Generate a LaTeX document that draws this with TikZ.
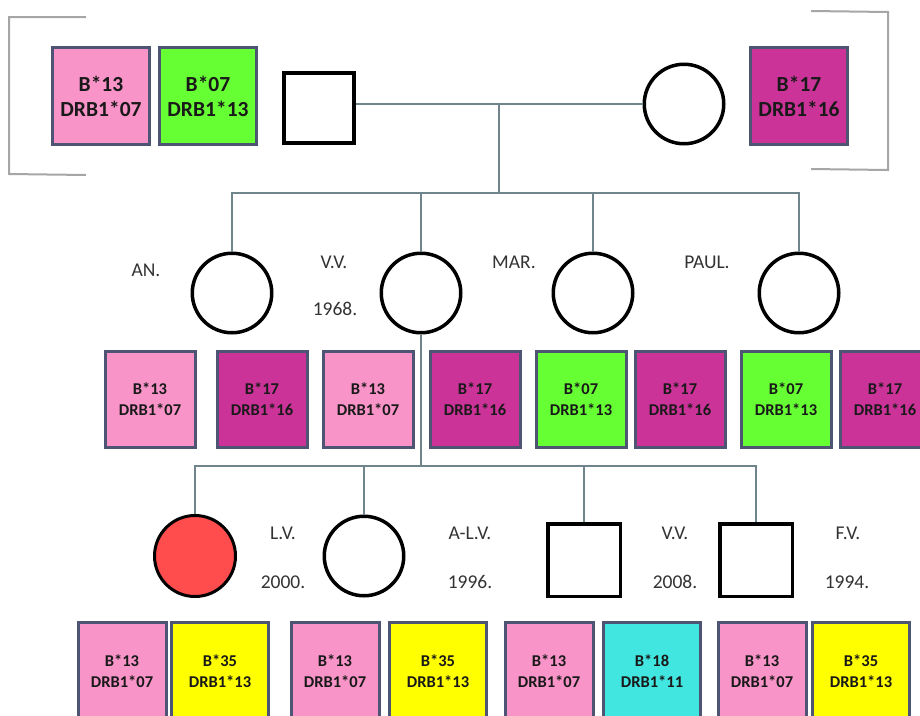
\documentclass[tikz,border=0pt]{standalone}
\usepackage{fontspec}
\setmainfont{Carlito}
\usetikzlibrary{calc}

\definecolor{hpink}{RGB}{249,148,200}
\definecolor{hgreen}{RGB}{102,255,51}
\definecolor{hmag}{RGB}{204,51,153}
\definecolor{hyel}{RGB}{255,255,0}
\definecolor{hcyan}{RGB}{66,230,224}
\definecolor{hred}{RGB}{255,77,77}
\definecolor{hedge}{RGB}{78,84,115}
\definecolor{hline}{RGB}{112,132,140}

\begin{document}
\begin{tikzpicture}[x=1pt,y=-1pt,
	male/.style={draw,rectangle,line width=3.5pt,minimum size=70pt},
	female/.style={draw,circle,line width=3.5pt,minimum size=79.5pt},
	hla/.style={draw=hedge,line width=3pt,rectangle,align=center,text=black!90,
		font=\bfseries\fontsize{16.5}{21}\selectfont,minimum width=90pt,minimum height=96pt},
	big/.style={font=\bfseries\fontsize{21.5}{25}\selectfont,minimum width=97pt,minimum height=97pt},
	low/.style={minimum width=97pt,minimum height=97pt},
	narrow/.style={minimum width=88pt},
	lbl/.style={text=black!80,font=\fontsize{19.5}{23}\selectfont,inner sep=0},
	link/.style={draw=hline,line width=1.3pt},
	bracket/.style={draw=black!35,line width=2pt}]

\useasboundingbox[fill=white] (0,0) rectangle (920,715);

% parents
\node[male] (fa) at (319,108) {};
\node[female] (mo) at (684,104) {};
\node[hla,big,fill=hpink] (fa-1) at (101,96) {B*13\\DRB1*07};
\node[hla,big,fill=hgreen] (fa-2) at (208,96) {B*07\\DRB1*13};
\node[hla,big,fill=hmag] (mo-1) at (799,96) {B*17\\DRB1*16};

\draw[bracket] (86,17) -- (9,17) -- (9,174) -- (86,175);
\draw[bracket] (811,11) -- (888,12) -- (888,170) -- (811,169);

% children
\node[female] (an) at (232,293) {};
\node[female] (vv) at (421,293) {};
\node[female] (mar) at (593,293) {};
\node[female] (paul) at (799,293) {};

\node[lbl] (an-l) at (146,270) {AN.};
\node[lbl] (vv-l) at (334,262) {V.V.};
\node[lbl] (vv-y) at (335,309) {1968.};
\node[lbl] (mar-l) at (514,262) {MAR.};
\node[lbl] (paul-l) at (707,262) {PAUL.};

\node[hla,fill=hpink] (an-1) at (150,399) {B*13\\DRB1*07};
\node[hla,fill=hmag] (an-2) at (262,399) {B*17\\DRB1*16};
\node[hla,fill=hpink] (vv-1) at (368,399) {B*13\\DRB1*07};
\node[hla,fill=hmag] (vv-2) at (475,399) {B*17\\DRB1*16};
\node[hla,fill=hgreen] (mar-1) at (581,399) {B*07\\DRB1*13};
\node[hla,fill=hmag] (mar-2) at (680,399) {B*17\\DRB1*16};
\node[hla,fill=hgreen] (paul-1) at (786,399) {B*07\\DRB1*13};
\node[hla,fill=hmag] (paul-2) at (885,399) {B*17\\DRB1*16};

% grandchildren
\node[female,fill=hred,line width=3pt,minimum size=81pt] (lv) at (195,556) {};
\node[female] (alv) at (364,556) {};
\node[male,minimum size=72.5pt] (vv2) at (584,560) {};
\node[male,minimum size=72.5pt] (fv) at (756,560) {};

\node[lbl] (lv-l) at (283,533) {L.V.};
\node[lbl] (lv-y) at (283,582) {2000.};
\node[lbl] (alv-l) at (470,533) {A-L.V.};
\node[lbl] (alv-y) at (470,582) {1996.};
\node[lbl] (vv2-l) at (675,533) {V.V.};
\node[lbl] (vv2-y) at (675,582) {2008.};
\node[lbl] (fv-l) at (848,533) {F.V.};
\node[lbl] (fv-y) at (847,582) {1994.};

\node[hla,low,narrow,fill=hpink] (lv-1) at (122,671) {B*13\\DRB1*07};
\node[hla,low,fill=hyel] (lv-2) at (220,671) {B*35\\DRB1*13};
\node[hla,low,narrow,fill=hpink] (alv-1) at (335,671) {B*13\\DRB1*07};
\node[hla,low,fill=hyel] (alv-2) at (438,671) {B*35\\DRB1*13};
\node[hla,low,narrow,fill=hpink] (vv2-1) at (549,671) {B*13\\DRB1*07};
\node[hla,low,fill=hcyan] (vv2-2) at (652,671) {B*18\\DRB1*11};
\node[hla,low,narrow,fill=hpink] (fv-1) at (762,671) {B*13\\DRB1*07};
\node[hla,low,fill=hyel] (fv-2) at (861,671) {B*35\\DRB1*13};

% lines
\draw[link] (fa.east |- mo.west) -- (mo.west);
\coordinate (mid) at ($(fa.east |- mo.west)!.5!(mo.west)$);
\coordinate (sib) at (mid |- 0,193);
\draw[link] (mid) -- (sib);
\draw[link] (an.north) |- (sib) -- (sib -| paul.north) -- (paul.north);
\draw[link] (vv.north) -- (vv.north |- sib);
\draw[link] (mar.north) -- (mar.north |- sib);

\coordinate (gsib) at (vv.south |- 0,466);
\draw[link] (vv.south) -- (gsib);
\draw[link] (lv.north) |- (gsib) -- (gsib -| fv.north) -- (fv.north);
\draw[link] (alv.north) -- (alv.north |- gsib);
\draw[link] (vv2.north) -- (vv2.north |- gsib);

\end{tikzpicture}
\end{document}
